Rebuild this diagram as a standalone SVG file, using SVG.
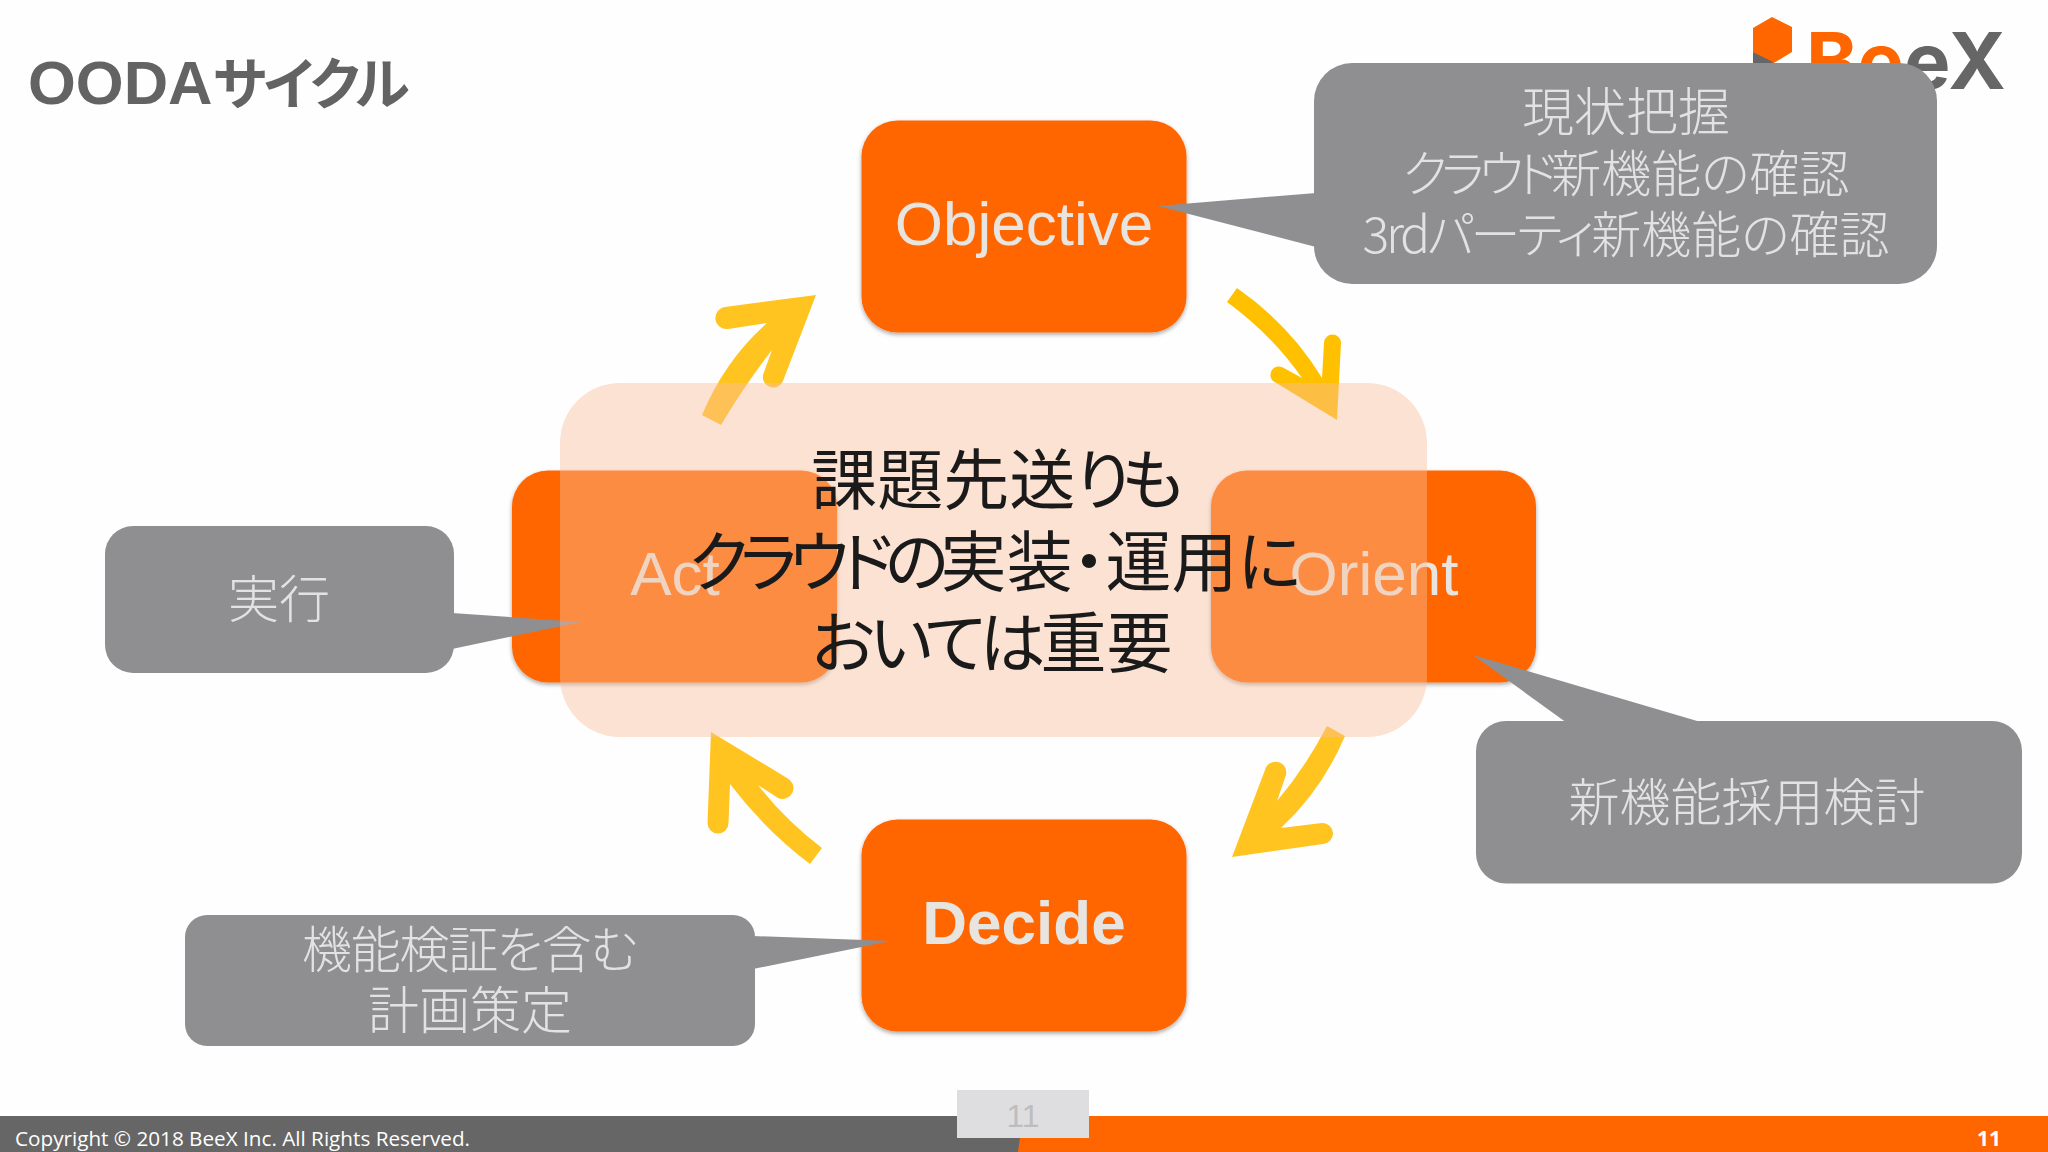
<svg xmlns="http://www.w3.org/2000/svg" width="2048" height="1152" viewBox="0 0 2048 1152">
<defs>
<style>
.node{fill:#ff6600;filter:url(#sh)}
.nl{font-family:"Liberation Sans",Arial,sans-serif;font-size:62px;fill:#e8e4e0;text-anchor:middle}
.call{fill:#8f8e90}
.ct{font-family:"Noto Sans CJK JP","Noto Sans",sans-serif;font-weight:300;font-size:50px;fill:#e2e2e2;text-anchor:middle;font-feature-settings:"palt"}
.mid{font-family:"Noto Sans CJK JP","Noto Sans",sans-serif;font-weight:400;font-size:66px;fill:#1a1a1a;text-anchor:middle;font-feature-settings:"palt"}
</style>
<filter id="sh" x="-5%" y="-5%" width="110%" height="112%"><feDropShadow dx="0" dy="2" stdDeviation="2" flood-color="#000" flood-opacity="0.35"/></filter>
</defs>
<rect width="2048" height="1152" fill="#fefefe"/>
<text x="28" y="103.5" fill="#636363" font-weight="700"><tspan font-family="'Liberation Sans',Arial,sans-serif" font-size="61.5">OODA</tspan><tspan x="213" font-family="'Noto Sans CJK JP','Noto Sans',sans-serif" font-size="56" letter-spacing="-3" style="font-feature-settings:'palt'">サイクル</tspan></text>
<g id="logo">
<path d="M1772 17L1792 27V52L1772 64L1753 52V28Z" fill="#ff6600"/>
<path d="M1753 52L1773 62L1753 78Z" fill="#666"/>
<text x="1806" y="89" font-family="Inter,'Liberation Sans',sans-serif" font-weight="700" font-size="78" fill="#666"><tspan fill="#ff6600">Be</tspan>eX</text>
</g>
<g id="footer">
<rect x="0" y="1116" width="2048" height="36" fill="#666"/>
<path d="M1023 1116H2048V1152H1018Z" fill="#ff6600"/>
<rect x="957" y="1090" width="132" height="48" fill="#dedee0"/>
<text x="1023" y="1127" font-family="'Liberation Sans',Arial,sans-serif" font-size="32" fill="#bdbdbd" text-anchor="middle">11</text>
<text x="15" y="1146" font-family="'Open Sans',sans-serif" font-size="20.7" fill="#fff">Copyright © 2018 BeeX Inc. All Rights Reserved.</text>
<text x="1989" y="1146" font-family="'Open Sans',sans-serif" font-weight="700" font-size="21" fill="#fff" text-anchor="middle">11</text>
</g>
<g id="node-objective"><rect class="node" x="861.5" y="120.5" width="325" height="212" rx="36"/><text class="nl" x="1024" y="245">Objective</text></g>
<g id="node-orient"><rect class="node" x="1211" y="470.5" width="325" height="212" rx="36"/><text class="nl" x="1374" y="595">Orient</text></g>
<g id="node-act"><rect class="node" x="512" y="470.5" width="325" height="212" rx="36"/><text class="nl" x="675" y="595">Act</text></g>
<g id="node-decide"><rect class="node" x="861.5" y="819.5" width="325" height="212" rx="36"/><text class="nl" x="1024" y="944" font-weight="700">Decide</text></g>
<g id="connectors">
<path id="arrow-act-objective" fill="#ffc420" d="M816 295L725 307A11 11 0 0 0 728 329L767 323Q725 360 702 415L721 425Q745 385 772 350L763 375A10.5 10.5 0 0 0 783 381Z"/>
<path id="arrow-objective-orient" fill="#ffc000" d="M1337 420L1341 343A8.5 8.5 0 0 0 1324 343L1322 378Q1290 325 1237 288L1227 302Q1272 335 1302 378L1282 367A8.5 8.5 0 0 0 1273 381Z"/>
<path id="arrow-orient-decide" fill="#ffc420" d="M1232 857L1323 844A10.5 10.5 0 0 0 1322 823L1281 828Q1322 790 1345 736L1327 726Q1305 768 1277 801L1286 775A10.5 10.5 0 0 0 1265 770Z"/>
<path id="arrow-decide-act" fill="#ffc420" d="M711 732L787 778A10.5 10.5 0 0 1 778 798L758 785Q785 820 822 848L810 864Q765 830 730 784L728.5 823A10.5 10.5 0 0 1 707.5 823Z"/>
</g>
<g id="note-objective"><rect class="call" x="1314" y="63" width="623" height="221" rx="38"/><path class="call" d="M1316 193L1158 206L1316 247Z"/><text class="ct" x="1626" y="131" style="font-size:52px">現状把握</text><text class="ct" x="1626" y="192"><tspan letter-spacing="-6">クラウド</tspan>新機能の確認</text><text class="ct" x="1626" y="253"><tspan letter-spacing="-3.3">3rdパーティ</tspan>新機能の確認</text></g>
<g id="note-orient"><rect class="call" x="1476" y="721" width="546" height="162.5" rx="30"/><path class="call" d="M1567 723L1473 655L1704 723Z"/><text class="ct" x="1747" y="821" style="font-size:51px">新機能採用検討</text></g>
<g id="note-act"><rect class="call" x="105" y="526" width="349" height="147" rx="28"/><path class="call" d="M452 613L581 622L452 649Z"/><text class="ct" x="279" y="618" style="font-size:51px">実行</text></g>
<g id="note-decide"><rect class="call" x="185" y="915" width="570" height="131" rx="22"/><path class="call" d="M753 936L891 941L753 969Z"/><text class="ct" x="470" y="968" textLength="336">機能検証を含む</text><text class="ct" x="470" y="1029" style="font-size:51px">計画策定</text></g>
<g id="summary"><rect x="560" y="383" width="867" height="354" rx="60" fill="#fbbe9b" fill-opacity="0.43"/><text class="mid" x="993" y="504">課題先送<tspan letter-spacing="-9">りも</tspan></text><text class="mid" x="993" y="586"><tspan letter-spacing="-8">クラウドの</tspan>実装・運用<tspan letter-spacing="-4">に</tspan></text><text class="mid" x="992" y="667"><tspan letter-spacing="-5">おいては</tspan>重要</text></g>
</svg>
